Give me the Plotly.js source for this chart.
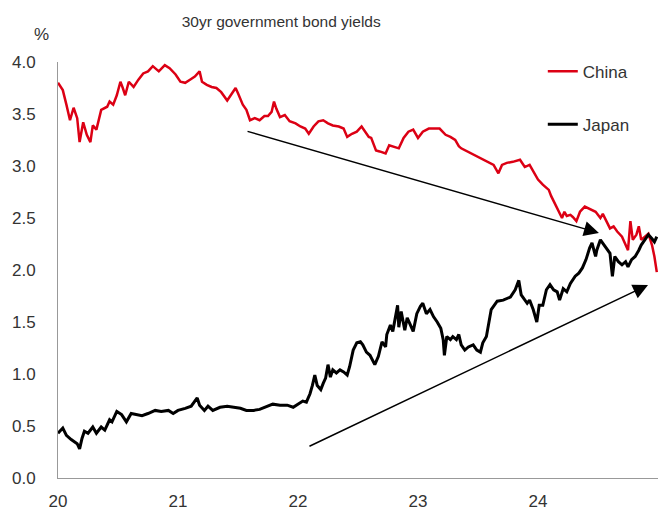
<!DOCTYPE html>
<html>
<head>
<meta charset="utf-8">
<script src="https://cdn.plot.ly/plotly-3.0.1.min.js"></script>
<style>
html,body{margin:0;padding:0;background:#fff;}
#chart{width:663px;height:512px;}
</style>
</head>
<body>
<div id="chart"></div>
<script>
// ---- Data (decimal years, % yield) ----
const chinaX = [2020.00,2020.04,2020.07,2020.10,2020.13,2020.16,2020.18,2020.21,2020.24,2020.27,2020.29,2020.32,2020.36,2020.41,2020.43,2020.46,2020.49,2020.52,2020.54,2020.56,2020.59,2020.63,2020.67,2020.71,2020.75,2020.79,2020.84,2020.89,2020.93,2020.98,2021.02,2021.06,2021.10,2021.14,2021.18,2021.20,2021.24,2021.28,2021.32,2021.36,2021.41,2021.45,2021.48,2021.50,2021.54,2021.57,2021.60,2021.64,2021.68,2021.72,2021.75,2021.78,2021.80,2021.82,2021.85,2021.89,2021.93,2021.98,2022.02,2022.06,2022.09,2022.13,2022.17,2022.21,2022.25,2022.29,2022.34,2022.38,2022.41,2022.45,2022.49,2022.53,2022.56,2022.59,2022.61,2022.65,2022.68,2022.73,2022.76,2022.79,2022.84,2022.88,2022.92,2022.96,2023.00,2023.04,2023.09,2023.14,2023.18,2023.23,2023.27,2023.31,2023.34,2023.36,2023.41,2023.46,2023.52,2023.57,2023.63,2023.67,2023.70,2023.74,2023.79,2023.85,2023.89,2023.93,2023.96,2024.00,2024.04,2024.09,2024.11,2024.14,2024.17,2024.20,2024.22,2024.24,2024.27,2024.29,2024.32,2024.35,2024.39,2024.43,2024.48,2024.52,2024.54,2024.57,2024.60,2024.63,2024.66,2024.70,2024.73,2024.75,2024.77,2024.79,2024.82,2024.84,2024.86,2024.89,2024.92,2024.95,2024.97,2024.99];
const chinaY = [3.80,3.73,3.59,3.44,3.56,3.46,3.23,3.42,3.30,3.23,3.39,3.35,3.54,3.57,3.62,3.59,3.68,3.81,3.75,3.68,3.81,3.76,3.83,3.89,3.91,3.96,3.91,3.97,3.94,3.88,3.81,3.80,3.83,3.86,3.91,3.81,3.78,3.76,3.75,3.71,3.63,3.70,3.75,3.70,3.59,3.54,3.44,3.46,3.44,3.48,3.48,3.52,3.62,3.55,3.47,3.49,3.43,3.41,3.38,3.36,3.31,3.38,3.43,3.44,3.41,3.39,3.38,3.36,3.28,3.31,3.33,3.38,3.33,3.28,3.27,3.15,3.14,3.12,3.20,3.19,3.17,3.27,3.33,3.35,3.27,3.33,3.36,3.36,3.36,3.30,3.28,3.25,3.19,3.17,3.14,3.11,3.07,3.04,3.01,2.93,3.01,3.03,3.04,3.06,2.99,3.01,2.95,2.87,2.82,2.77,2.71,2.64,2.58,2.50,2.56,2.52,2.53,2.51,2.47,2.56,2.61,2.59,2.56,2.50,2.54,2.47,2.40,2.42,2.37,2.32,2.24,2.19,2.47,2.29,2.34,2.42,2.29,2.32,2.35,2.24,2.13,1.98];

const japanX = [2020.00,2020.04,2020.07,2020.11,2020.16,2020.18,2020.20,2020.22,2020.25,2020.29,2020.32,2020.36,2020.39,2020.43,2020.45,2020.49,2020.53,2020.57,2020.61,2020.66,2020.70,2020.75,2020.81,2020.86,2020.92,2020.96,2021.00,2021.06,2021.11,2021.16,2021.18,2021.22,2021.25,2021.29,2021.35,2021.41,2021.46,2021.52,2021.57,2021.63,2021.68,2021.74,2021.79,2021.85,2021.91,2021.96,2022.00,2022.04,2022.07,2022.10,2022.12,2022.14,2022.16,2022.19,2022.21,2022.23,2022.25,2022.27,2022.29,2022.32,2022.35,2022.38,2022.41,2022.43,2022.46,2022.49,2022.52,2022.54,2022.57,2022.60,2022.64,2022.67,2022.70,2022.73,2022.74,2022.77,2022.79,2022.81,2022.83,2022.84,2022.86,2022.89,2022.91,2022.93,2022.96,2022.99,2023.02,2023.04,2023.07,2023.10,2023.13,2023.16,2023.19,2023.21,2023.22,2023.24,2023.27,2023.29,2023.32,2023.34,2023.36,2023.39,2023.42,2023.46,2023.49,2023.52,2023.54,2023.57,2023.61,2023.66,2023.71,2023.77,2023.81,2023.84,2023.86,2023.91,2023.93,2023.96,2023.99,2024.01,2024.04,2024.07,2024.10,2024.13,2024.16,2024.18,2024.21,2024.24,2024.27,2024.31,2024.34,2024.37,2024.40,2024.43,2024.45,2024.48,2024.49,2024.52,2024.54,2024.57,2024.60,2024.62,2024.64,2024.67,2024.70,2024.73,2024.75,2024.78,2024.81,2024.84,2024.86,2024.89,2024.92,2024.95,2024.97,2024.99];
const japanY = [0.43,0.48,0.41,0.37,0.33,0.28,0.38,0.45,0.43,0.49,0.43,0.49,0.46,0.56,0.54,0.64,0.61,0.54,0.62,0.61,0.60,0.62,0.65,0.64,0.65,0.62,0.65,0.67,0.69,0.77,0.70,0.65,0.69,0.65,0.68,0.69,0.68,0.67,0.65,0.65,0.66,0.69,0.71,0.70,0.70,0.68,0.71,0.74,0.73,0.81,0.89,0.99,0.89,0.85,0.91,0.96,1.09,0.97,1.04,1.01,1.04,1.02,0.99,1.07,1.23,1.30,1.31,1.28,1.21,1.18,1.09,1.17,1.31,1.26,1.38,1.47,1.41,1.52,1.66,1.45,1.60,1.42,1.54,1.49,1.41,1.58,1.65,1.68,1.58,1.62,1.55,1.50,1.44,1.33,1.18,1.36,1.33,1.36,1.33,1.38,1.28,1.23,1.26,1.28,1.23,1.21,1.30,1.36,1.62,1.70,1.71,1.74,1.81,1.90,1.76,1.68,1.71,1.62,1.50,1.66,1.66,1.81,1.86,1.81,1.79,1.71,1.82,1.79,1.87,1.94,1.97,2.02,2.10,2.21,2.26,2.13,2.19,2.29,2.26,2.21,2.16,1.94,2.13,2.08,2.05,2.08,2.03,2.10,2.13,2.19,2.24,2.29,2.34,2.30,2.27,2.32];

const tickVals = [2020, 2021, 2022, 2023, 2024];
const tickLabels = ["20", "21", "22", "23", "24"];
const yTickVals = [0, 0.5, 1, 1.5, 2, 2.5, 3, 3.5, 4];

// Trend arrows: [tailX, tailY, tipX, tipY]
const arrowChina = [2021.567, 3.337, 2024.508, 2.356];
const arrowJapan = [2022.083, 0.298, 2024.917, 1.856];

const FONT = "'Liberation Sans', Arial, sans-serif";
const TXT = "#333333";

const traces = [
  {x: chinaX, y: chinaY, name: "China", type: "scatter", mode: "lines",
   line: {color: "#dc0014", width: 2.5}, legendgroup: "a"},
  {x: japanX, y: japanY, name: "Japan", type: "scatter", mode: "lines",
   line: {color: "#000000", width: 3}, legendgroup: "b"}
];

function arrow(a) {
  return {x: a[2], y: a[3], ax: a[0], ay: a[1], xref: "x", yref: "y", axref: "x", ayref: "y",
          showarrow: true, arrowhead: 2, arrowsize: 2, arrowwidth: 1.5, arrowcolor: "#000", standoff: 0, text: ""};
}

const layout = {
  width: 663, height: 512,
  margin: {l: 58, r: 5, t: 62, b: 34},
  paper_bgcolor: "#fff", plot_bgcolor: "#fff",
  font: {family: FONT, color: TXT, size: 17},
  title: {text: "30yr government bond yields", font: {family: FONT, size: 15.5, color: TXT},
          xref: "paper", x: 0.372, xanchor: "center", yref: "container", y: 0.957, yanchor: "middle"},
  xaxis: {range: [2020, 2025], tickvals: tickVals, ticktext: tickLabels, showgrid: false, zeroline: false,
          showline: true, linecolor: "#999999", linewidth: 1, ticks: "", ticklabelstandoff: 8,
          tickfont: {family: FONT, size: 17, color: TXT}, fixedrange: true},
  yaxis: {range: [0, 4], tickvals: yTickVals, tickformat: ".1f", showgrid: false, zeroline: false,
          showline: true, linecolor: "#999999", linewidth: 1, ticks: "", ticklabelstandoff: 18,
          tickfont: {family: FONT, size: 17, color: TXT}, fixedrange: true},
  showlegend: true,
  legend: {x: 0.808, y: 1.02, xanchor: "left", yanchor: "top", bgcolor: "rgba(0,0,0,0)",
           font: {family: FONT, size: 17, color: TXT}, traceorder: "grouped", tracegroupgap: 28, itemwidth: 30},
  annotations: [
    arrow(arrowChina), arrow(arrowJapan),
    {text: "%", xref: "paper", yref: "paper", x: -0.028, y: 1.065, xanchor: "center", yanchor: "middle",
     showarrow: false, font: {family: FONT, size: 17, color: TXT}}
  ]
};

Plotly.newPlot("chart", traces, layout, {displayModeBar: false, staticPlot: true});
</script>
</body>
</html>
